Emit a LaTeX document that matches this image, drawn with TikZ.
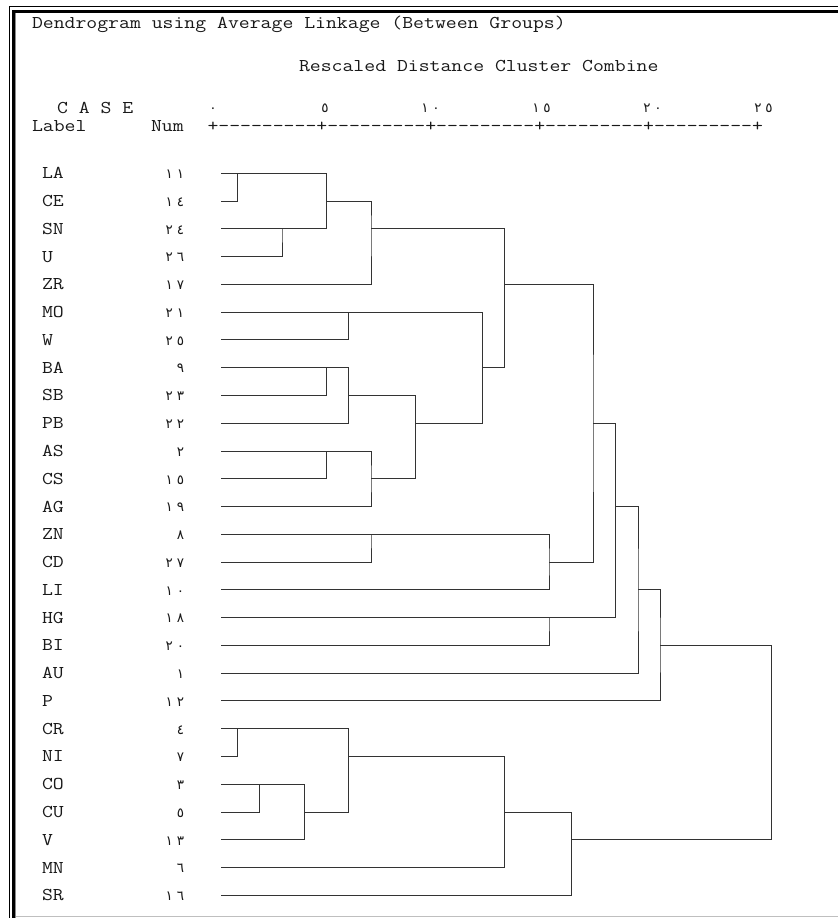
\documentclass[tikz,border=0pt]{standalone}
\usepackage{fontspec}
\usepackage{graphicx}
\newfontfamily\ardig{DejaVu Sans}
\newcommand\mono[1]{\scalebox{1.175}[1]{\fontsize{18}{18}\selectfont\ttfamily #1}}
\newcommand\dg[1]{{\fontsize{13.5}{13.5}\selectfont\ardig #1}}
\newcommand\tencol{-\kern0pt-\kern0pt-\kern0pt-\kern0pt-\kern0pt-\kern0pt-\kern0pt-\kern0pt-\kern0pt+}
\newcommand\cell[1]{\makebox[11.1pt]{\dg{#1}}}
\begin{document}
\begin{tikzpicture}[x=1pt,y=-1pt,
  txt/.style={anchor=base west, inner sep=0pt, outer sep=0pt, text=black!90},
  numtxt/.style={anchor=base east, inner sep=0pt, outer sep=0pt, text=black!90},
  tick/.style={anchor=base, inner sep=0pt, outer sep=0pt, text=black!90},
  link/.style={draw=black!80, line width=1pt}]
\useasboundingbox (0,0) rectangle (838,918);
\fill[white] (0,0) rectangle (838,918);
% frame
\draw[black, line width=1pt] (9,6) -- (838,6);
\draw[black, line width=1pt] (9,6) -- (9,918);
\fill[black] (11.5,9.5) rectangle (838,12.5);
\fill[black] (11.5,9.5) rectangle (14.5,918);
\draw[black!45, line width=1pt] (15.8,12.5) -- (15.8,918);
\draw[black!25, line width=1.5pt] (16,916.5) -- (838,916.5);
% headers
\node[txt] (title) at (32,28.5) {\mono{Dendrogram using Average Linkage (Between Groups)}};
\node[txt] (resc) at (299,71) {\mono{Rescaled Distance Cluster Combine}};
\node[txt] (case) at (57,113) {\mono{C A S E}};
\node[txt] (label) at (32,131.5) {\mono{Label}};
\node[txt] (num) at (151,131.5) {\mono{Num}};
\node[txt] (axis) at (207.5,131.5) {\mono{+\tencol\tencol\tencol\tencol\tencol}};
% axis tick labels
\node[tick] (t0) at (213,112.5) {\dg{٠}};
\node[tick] (t5) at (325,112.5) {\dg{٥}};
\node[tick] (t10) at (430.5,112.5) {\cell{١}\cell{٠}};
\node[tick] (t15) at (541.5,112.5) {\cell{١}\cell{٥}};
\node[tick] (t20) at (652.5,112.5) {\cell{٢}\cell{٠}};
\node[tick] (t25) at (763.5,112.5) {\cell{٢}\cell{٥}};
% leaves
\foreach \lab/\i/\a/\b in {LA/0/١/١, CE/1/١/٤, SN/2/٢/٤, U/3/٢/٦, ZR/4/١/٧,
  MO/5/٢/١, W/6/٢/٥, BA/7//٩, SB/8/٢/٣, PB/9/٢/٢, AS/10//٢, CS/11/١/٥,
  AG/12/١/٩, ZN/13//٨, CD/14/٢/٧, LI/15/١/٠, HG/16/١/٨, BI/17/٢/٠,
  AU/18//١, P/19/١/٢, CR/20//٤, NI/21//٧, CO/22//٣, CU/23//٥, V/24/١/٣,
  MN/25//٦, SR/26/١/٦}{
  \coordinate (\lab) at (221,{173.3+27.77*\i});
  \node[txt] (l\lab) at (42,{178.8+27.77*\i}) {\mono{\lab}};
  \node[numtxt] (n\lab) at (186,{178.6+27.77*\i}) {\cell{\a}\cell{\b}};
}
% merge points
\coordinate (M1) at (237.3,173.3);
\coordinate (M2) at (282,228.84);
\coordinate (M3) at (326.3,201.07);
\coordinate (M4) at (371,228.84);
\coordinate (M5) at (348.4,312.15);
\coordinate (M6) at (326.3,367.69);
\coordinate (M7) at (348.4,395.46);
\coordinate (M8) at (326.3,451.0);
\coordinate (M9) at (371,478.77);
\coordinate (M10) at (415.6,423.23);
\coordinate (M11) at (482.2,367.69);
\coordinate (M12) at (504.3,284.38);
\coordinate (M13) at (371,534.31);
\coordinate (M14) at (549,562.08);
\coordinate (M15) at (593,423.23);
\coordinate (M16) at (549,617.62);
\coordinate (M17) at (615.8,506.54);
\coordinate (M18) at (638,589.85);
\coordinate (M19) at (660,645.39);
\coordinate (M20) at (237.3,728.7);
\coordinate (M21) at (259.4,784.24);
\coordinate (M22) at (304.2,812.01);
\coordinate (M23) at (348.4,756.47);
\coordinate (M24) at (504.3,812.01);
\coordinate (M25) at (571.2,839.78);
\coordinate (M26) at (771.2,728.7);
% links
\draw[link] (LA) -| (M1) |- (CE);
\draw[link] (SN) -| (M2) |- (U);
\draw[link] (M1) -| (M3) |- (M2);
\draw[link] (M3) -| (M4) |- (ZR);
\draw[link] (MO) -| (M5) |- (W);
\draw[link] (BA) -| (M6) |- (SB);
\draw[link] (M6) -| (M7) |- (PB);
\draw[link] (AS) -| (M8) |- (CS);
\draw[link] (M8) -| (M9) |- (AG);
\draw[link] (M7) -| (M10) |- (M9);
\draw[link] (M5) -| (M11) |- (M10);
\draw[link] (M4) -| (M12) |- (M11);
\draw[link] (ZN) -| (M13) |- (CD);
\draw[link] (M13) -| (M14) |- (LI);
\draw[link] (M12) -| (M15) |- (M14);
\draw[link] (HG) -| (M16) |- (BI);
\draw[link] (M15) -| (M17) |- (M16);
\draw[link] (M17) -| (M18) |- (AU);
\draw[link] (M18) -| (M19) |- (P);
\draw[link] (CR) -| (M20) |- (NI);
\draw[link] (CO) -| (M21) |- (CU);
\draw[link] (M21) -| (M22) |- (V);
\draw[link] (M20) -| (M23) |- (M22);
\draw[link] (M23) -| (M24) |- (MN);
\draw[link] (M24) -| (M25) |- (SR);
\draw[link] (M19) -| (M26) |- (M25);
\end{tikzpicture}
\end{document}
